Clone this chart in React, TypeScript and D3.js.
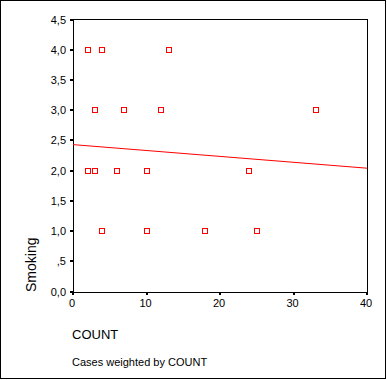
import React from "react";
import * as d3 from "d3";

const countX: number[] = [2, 4, 13, 3, 7, 12, 33, 2, 3, 6, 10, 24, 4, 10, 18, 25];
const smokingY: number[] = [4, 4, 4, 3, 3, 3, 3, 2, 2, 2, 2, 2, 1, 1, 1, 1];
const fitX: number[] = [0, 40];
const fitY: number[] = [2.43, 2.04];
const xTicks: number[] = [0, 10, 20, 30, 40];
const yTicks: number[] = [0, 0.5, 1, 1.5, 2, 2.5, 3, 3.5, 4, 4.5];
const yTickLabels: string[] = ["0,0", ",5", "1,0", "1,5", "2,0", "2,5", "3,0", "3,5", "4,0", "4,5"];
const xLabel = "COUNT";
const yLabel = "Smoking";
const footnote = "Cases weighted by COUNT";

const W = 387;
const H = 380;
const left = 73;
const right = 367;
const top = 19.5;
const bottom = 291.5;
const font = "'Liberation Sans', Arial, sans-serif";

export default function App() {
  const x = d3.scaleLinear().domain([0, 40]).range([left, right]);
  const y = d3.scaleLinear().domain([0, 4.5]).range([bottom, top]);
  const line = d3
    .line<number>()
    .x((d) => x(fitX[d]))
    .y((d) => y(fitY[d]));
  return (
    <svg
      width={W}
      height={H}
      style={{ position: "absolute", left: 0, top: 0, background: "#fff" }}
      fontFamily={font}
    >
      <rect x={0.5} y={0.5} width={385} height={378} fill="#fff" stroke="#000" strokeWidth={1} />
      {/* plot frame */}
      <rect
        x={left + 0.5}
        y={Math.round(top) - 0.5}
        width={right - left}
        height={Math.round(bottom) - Math.round(top) + 0.5}
        fill="none"
        stroke="#000"
        strokeWidth={1}
        shapeRendering="crispEdges"
      />
      {/* y ticks */}
      {yTicks.map((t, i) => (
        <g key={"y" + i}>
          <rect x={left - 3} y={Math.round(y(t)) - 1} width={3} height={2} fill="#000" shapeRendering="crispEdges" />
          <text x={66} y={Math.round(y(t)) + 4} fontSize={11} textAnchor="end" fill="#000">
            {yTickLabels[i]}
          </text>
        </g>
      ))}
      {/* x ticks */}
      {xTicks.map((t, i) => (
        <g key={"x" + i}>
          <rect x={Math.round(x(t)) - 1} y={Math.round(bottom)} width={2} height={3} fill="#000" shapeRendering="crispEdges" />
          <text x={x(t) - 1} y={307} fontSize={11} textAnchor="middle" fill="#000">
            {String(t)}
          </text>
        </g>
      ))}
      {/* fit line */}
      <path d={line([0, 1]) || ""} fill="none" stroke="#ff0000" strokeWidth={1} />
      {/* points */}
      {countX.map((cx, i) => (
        <rect
          key={"p" + i}
          x={Math.round(x(cx)) - 2.5}
          y={Math.round(y(smokingY[i])) - 2.5}
          width={5}
          height={5}
          fill="none"
          stroke="#ff0000"
          strokeWidth={1}
          shapeRendering="crispEdges"
        />
      ))}
      <text
        transform={`translate(36,292) rotate(-90)`}
        fontSize={14}
        textAnchor="start"
        fill="#000"
      >
        {yLabel}
      </text>
      <text x={72} y={339} fontSize={13} fill="#000">
        {xLabel}
      </text>
      <text x={72} y={366} fontSize={11} fill="#000">
        {footnote}
      </text>
    </svg>
  );
}
